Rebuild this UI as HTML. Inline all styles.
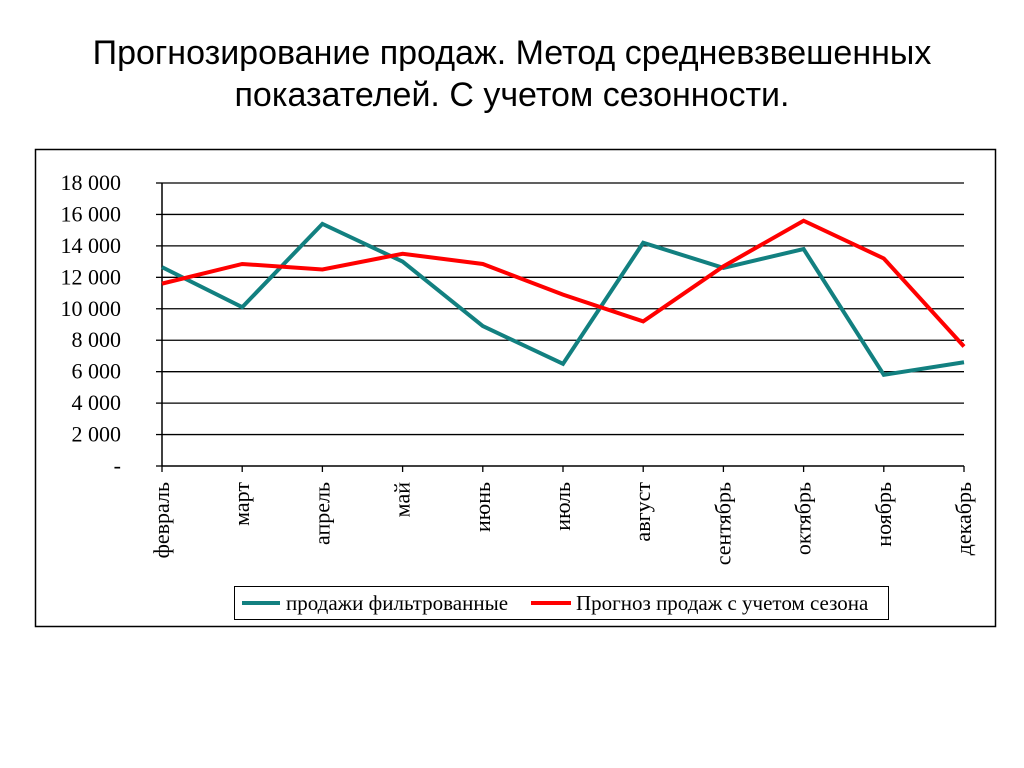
<!DOCTYPE html>
<html><head><meta charset="utf-8"><style>
body{margin:0;background:#fff;width:1024px;height:768px;overflow:hidden}
svg{display:block}
</style></head><body>
<svg width="1024" height="768">
<text x="512" y="64" text-anchor="middle" font-family="Liberation Sans, sans-serif" font-size="34">Прогнозирование продаж. Метод средневзвешенных</text>
<text x="512" y="106" text-anchor="middle" font-family="Liberation Sans, sans-serif" font-size="34">показателей. С учетом сезонности.</text>
<rect x="35.5" y="149.5" width="960" height="477" fill="none" stroke="#000" stroke-width="1.5"/>
<g id="grid"></g><g id="axes"></g><g id="series"></g>
<g>
<rect x="234.5" y="586.5" width="654" height="33" fill="#fff" stroke="#000"/>
<line x1="242" y1="603" x2="280" y2="603" stroke="#128080" stroke-width="4"/>
<text x="286" y="610" font-family="Liberation Serif, serif" font-size="21">продажи фильтрованные</text>
<line x1="531" y1="603" x2="571" y2="603" stroke="#f00" stroke-width="4"/>
<text x="576" y="610" font-family="Liberation Serif, serif" font-size="21">Прогноз продаж с учетом сезона</text>
</g>
</svg>
<script>
const categories=["февраль","март","апрель","май","июнь","июль","август","сентябрь","октябрь","ноябрь","декабрь"];
const filtered=[12650,10100,15400,13000,8900,6500,14200,12600,13800,5800,6600];
const forecast=[11600,12850,12500,13500,12850,10900,9200,12700,15600,13200,7600];
const yTicks=[0,2000,4000,6000,8000,10000,12000,14000,16000,18000];
const yTickLabels=["-","2 000","4 000","6 000","8 000","10 000","12 000","14 000","16 000","18 000"];
const NS="http://www.w3.org/2000/svg";
const x0=162,x1=964,y0=466,y1=183,yMax=18000;
const xs=i=>x0+i*(x1-x0)/(categories.length-1);
const ys=v=>y0-(v/yMax)*(y0-y1);
function mk(t,a,p){const e=document.createElementNS(NS,t);for(const k in a)e.setAttribute(k,a[k]);p.appendChild(e);return e;}
const grid=document.getElementById('grid'),axes=document.getElementById('axes'),ser=document.getElementById('series');
yTicks.forEach((v,i)=>{
  const y=ys(v);
  if(v>0){const g=mk('line',{x1:x0,y1:y,x2:x1,y2:y,stroke:'#000','stroke-width':1.3},grid);
  
  }
  const t=mk('line',{x1:x0-6,y1:y,x2:x0,y2:y,stroke:'#000','stroke-width':1.3},axes);
  
  
  const l=mk('text',{x:121,y:y+7,'text-anchor':'end','font-family':'Liberation Serif, serif','font-size':22},axes);
  l.textContent=yTickLabels[i];
  
  
});
const ya=mk('line',{x1:x0,y1:y1,x2:x0,y2:y0,stroke:'#000','stroke-width':1.5},axes);


const xa=mk('line',{x1:x0,y1:y0,x2:x1,y2:y0,stroke:'#000','stroke-width':1.5},axes);


categories.forEach((c,i)=>{
  const x=xs(i);
  const t=mk('line',{x1:x,y1:y0,x2:x,y2:y0+6,stroke:'#000','stroke-width':1.3},axes);
  
  
  const l=mk('text',{x:0,y:0,'text-anchor':'end','font-family':'Liberation Serif, serif','font-size':22,transform:`translate(${x+7},${y0+16}) rotate(-90)`},axes);
  l.textContent=c;
  
  
});
function line(vals,color,name){
  const p=mk('polyline',{points:vals.map((v,i)=>xs(i)+','+ys(v)).join(' '),fill:'none',stroke:color,'stroke-width':4,'stroke-linejoin':'miter'},ser);
  
  
}
line(filtered,'#128080','series-filtered-sales');
line(forecast,'#ff0000','series-seasonal-forecast');
</script>
</body></html>
